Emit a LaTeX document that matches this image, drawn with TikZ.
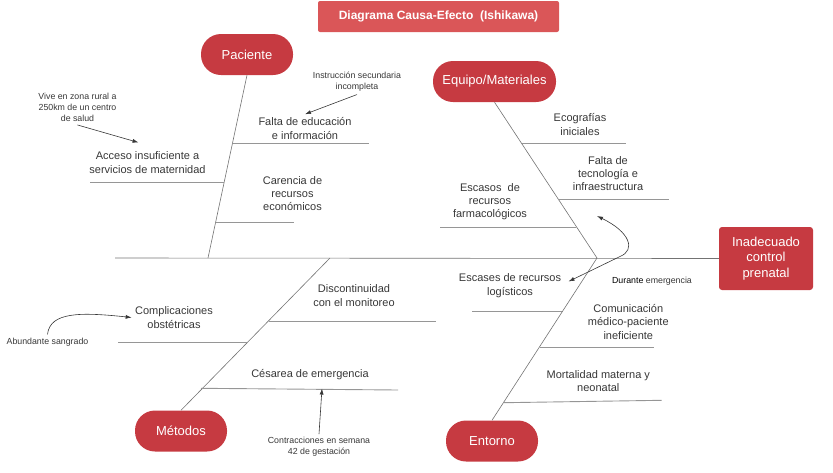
\documentclass[tikz,border=0pt]{standalone}
\usepackage{fontspec}
\setmainfont{Liberation Sans}
\usetikzlibrary{positioning,arrows.meta}
\definecolor{catred}{RGB}{198,58,65}
\definecolor{titlered}{RGB}{218,86,88}
\definecolor{txtgray}{RGB}{55,55,55}
\definecolor{bonegray}{RGB}{115,115,115}
\definecolor{ribgray}{RGB}{150,150,150}

\begin{document}
\begin{tikzpicture}[x=1pt,y=-1pt,>={Latex[length=6pt,width=4pt]},
  cat/.style={fill=catred,text=white,rounded corners=20pt,minimum width=92pt,minimum height=41pt,font=\fontsize{13}{15}\selectfont},
  effect/.style={fill=catred,text=white,rounded corners=3pt,minimum width=94pt,minimum height=63pt,align=center,font=\fontsize{13}{15.5}\selectfont},
  titlebox/.style={fill=titlered,text=white,rounded corners=2pt,minimum width=241pt,minimum height=31pt,font=\bfseries\fontsize{12}{14}\selectfont},
  cause/.style={text=txtgray,align=center,font=\fontsize{11}{13.3}\selectfont},
  note/.style={text=txtgray,align=center,font=\fontsize{8.8}{10.7}\selectfont},
  bone/.style={draw=bonegray,line width=0.6pt},
  rib/.style={draw=ribgray,line width=0.9pt},
  pointer/.style={->,draw=txtgray,line width=0.6pt}]
\useasboundingbox (0,0) rectangle (833,472);
\node[titlebox](title) at (438.5,16.5){Diagrama Causa-Efecto~ (Ishikawa)};
\node[cat](pac) at (247,54.5){Paciente};
\node[cat,minimum width=123pt](equ) at (494.5,81.5){Equipo/Materiales};
\node[cat](met) at (181,431){Métodos};
\node[cat](ent) at (492,441){Entorno};
\node[effect](eff) at (766,258.5){Inadecuado\\control\\prenatal};
\coordinate (tail) at (115,258);
\coordinate (j_pac) at (208,258);
\coordinate (j_met) at (330,258);
\coordinate (j_equ) at (597,258);
\draw[bone] (tail) -- (eff.west);
\draw[bone] (pac.south) -- (j_pac);
\draw[bone] (equ.south) -- (j_equ);
\draw[bone] (met.north) -- (j_met);
\draw[bone] (ent.north) -- (j_equ);

\node[cause](c_edu) at (305,128.5){Falta de educación\\e información};
\node[cause](c_acc) at (147.5,162.5){Acceso insuficiente a\\servicios de maternidad};
\node[cause](c_rec) at (292.5,193.5){Carencia de\\recursos\\económicos};
\node[note](n_ins) at (357,81.5){Instrucción secundaria\\incompleta};
\node[note](n_rur) at (77.5,107.5){Vive en zona rural a\\250km de un centro\\de salud};
\coordinate (p1) at (232.5,143); \coordinate (p1e) at (369,143);
\coordinate (p2) at (224,182.5); \coordinate (p2e) at (90,182.5);
\coordinate (p3) at (215.5,222); \coordinate (p3e) at (294,222);
\coordinate (a_acc) at (138.5,142.5);

\node[cause](c_eco) at (580,124.5){Ecografías\\iniciales};
\node[cause](c_tec) at (608,173.5){Falta de\\tecnología e\\infraestructura};
\node[cause](c_far) at (490,201.5){Escasos~ de\\recursos\\farmacológicos};
\coordinate (e1) at (521.5,143); \coordinate (e1e) at (626,143);
\coordinate (e2) at (558,199.5); \coordinate (e2e) at (669,199.5);
\coordinate (e3) at (576,227); \coordinate (e3e) at (440,227);

\node[cause](c_dis) at (354,295.5){Discontinuidad\\con el monitoreo};
\node[cause](c_com) at (174,317.5){Complicaciones\\obstétricas};
\node[cause](c_ces) at (310,375){Césarea de emergencia};
\node[note](n_san) at (47.5,342){Abundante sangrado};
\node[note](n_con) at (319,447){Contracciones en semana\\42 de gestación};
\coordinate (m1) at (269,321); \coordinate (m1e) at (436,321);
\coordinate (m2) at (247.5,342.3); \coordinate (m2e) at (118,342.3);
\coordinate (m3) at (201,388.3); \coordinate (m3e) at (398,390);
\coordinate (a_ces) at (322,388.5);

\node[cause](c_log) at (510,285.5){Escases de recursos\\logísticos};
\node[cause](c_cmp) at (628.3,321.8){Comunicación\\médico-paciente\\ineficiente};
\node[cause](c_mor) at (598.3,381){Mortalidad materna y\\neonatal};
\node[note](n_dur) at (652,281){{\color{black}Durante} emergencia};
\coordinate (t1) at (562,311.7); \coordinate (t1e) at (472,311.7);
\coordinate (t2) at (539.5,347.3); \coordinate (t2e) at (654,347.3);
\coordinate (t3) at (503.5,402.7); \coordinate (t3e) at (661.7,400.3);
\coordinate (d_lo) at (568.5,281.5);
\coordinate (d_mid) at (620,256.5);
\coordinate (d_hi) at (597,216);

\draw[rib] (p1) -- (p1e);
\draw[rib] (p2) -- (p2e);
\draw[rib] (p3) -- (p3e);
\draw[rib] (e1) -- (e1e);
\draw[rib] (e2) -- (e2e);
\draw[rib] (e3) -- (e3e);
\draw[rib] (m1) -- (m1e);
\draw[rib] (m2) -- (m2e);
\draw[rib] (m3) -- (m3e);
\draw[rib] (t1) -- (t1e);
\draw[rib] (t2) -- (t2e);
\draw[rib] (t3) -- (t3e);

\draw[pointer] (n_ins.south) -- (c_edu.north);
\draw[pointer] (n_rur.south) -- (a_acc);
\draw[pointer] (n_san.north) .. controls (50,312) and (80,312) .. (c_com.west);
\draw[pointer] (n_con.north) -- (a_ces);
\draw[pointer,<->] (d_lo) -- (d_mid) .. controls (636,250) and (630,232) .. (d_hi);
\end{tikzpicture}
\end{document}
